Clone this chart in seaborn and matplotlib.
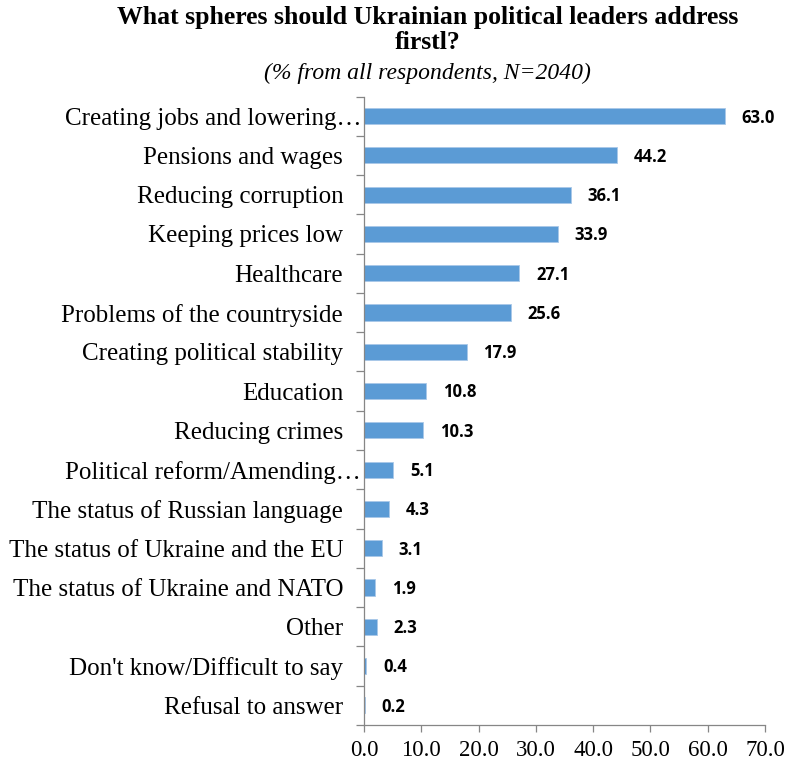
import matplotlib
matplotlib.use("Agg")
import matplotlib.pyplot as plt
from matplotlib.ticker import FixedLocator
from matplotlib.transforms import ScaledTranslation
import seaborn as sns
import pandas as pd

categories = [
    "Creating jobs and lowering…",
    "Pensions and wages",
    "Reducing corruption",
    "Keeping prices low",
    "Healthcare",
    "Problems of the countryside",
    "Creating political stability",
    "Education",
    "Reducing crimes",
    "Political reform/Amending…",
    "The status of Russian language",
    "The status of Ukraine and the EU",
    "The status of Ukraine and NATO",
    "Other",
    "Don't know/Difficult to say",
    "Refusal to answer",
]
values = [63.0, 44.2, 36.1, 33.9, 27.1, 25.6, 17.9, 10.8, 10.3, 5.1, 4.3, 3.1, 1.9, 2.3, 0.4, 0.2]
x_ticks = [0, 10, 20, 30, 40, 50, 60, 70]

title = "What spheres should Ukrainian political leaders address\nfirstl?"
subtitle = "(% from all respondents, N=2040)"

df = pd.DataFrame({"category": categories, "value": values})

sns.set_theme(style="white")
plt.rcParams["font.family"] = ["Liberation Serif", "DejaVu Serif"]
plt.rcParams["text.color"] = "black"

fig = plt.figure(figsize=(7.88, 7.65), dpi=100)
ax = fig.add_axes([364 / 788, 1 - 725 / 765, (765 - 364) / 788, (725 - 96.5) / 765])

sns.barplot(data=df, y="category", x="value", orient="h", color="#5B9BD5",
            width=0.41, edgecolor="#A9C8E8", linewidth=0.6, saturation=1, ax=ax)

ax.set_xlim(0, 70)
ax.set_ylim(len(categories) - 0.5, -0.5)
ax.set_xticks(x_ticks)
ax.set_xticklabels([f"{t:.1f}" for t in x_ticks], fontsize=16.5)
ax.set_xlabel("")
ax.set_ylabel("")

ax.tick_params(axis="y", which="major", length=0, pad=15, labelsize=18, labelcolor="black")
ax.yaxis.set_minor_locator(FixedLocator([i - 0.5 for i in range(len(categories) + 1)]))
ax.tick_params(axis="y", which="minor", length=5.5, width=0.9, color="#868686", direction="out", left=True)
ax.tick_params(axis="x", which="major", length=5, width=0.9, color="#868686", direction="out", bottom=True, pad=6, labelcolor="black")

# Excel-style truncated labels sit slightly closer to the axis
for lab in ax.get_yticklabels():
    if lab.get_text().endswith("…"):
        lab.set_transform(lab.get_transform() + ScaledTranslation(18 / 100, 0, fig.dpi_scale_trans))

for s in ["top", "right"]:
    ax.spines[s].set_visible(False)
for s in ["left", "bottom"]:
    ax.spines[s].set_color("#868686")
    ax.spines[s].set_linewidth(0.9)

for i, v in enumerate(values):
    ax.annotate(f"{v:.1f}", xy=(v, i), xytext=(12, -1), textcoords="offset points",
                ha="left", va="center", fontsize=12, fontweight="bold",
                family=["Open Sans", "DejaVu Sans"], color="black")

fig.text(428 / 788, 1 - 30 / 765, title, ha="center", va="center", fontsize=18.5,
         fontweight="bold", linespacing=1.12)
fig.text(427 / 788, 1 - 73 / 765, subtitle, ha="center", va="center", fontsize=17,
         style="italic")

fig.savefig("out.png", dpi=100)
